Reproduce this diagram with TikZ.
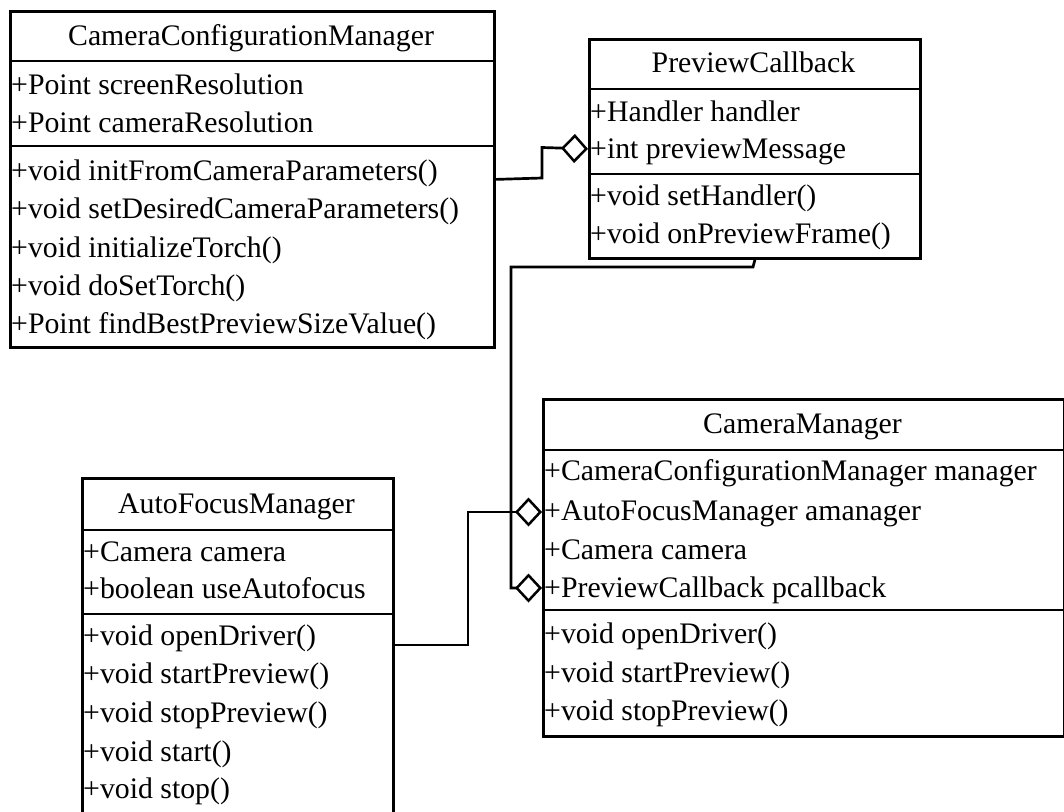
\documentclass[tikz,border=0pt]{standalone}
\usepackage{fontspec}
\setmainfont{Liberation Serif}
\usetikzlibrary{arrows.meta}
\newcommand\umlfont{\fontsize{29.8}{35}\selectfont}
\begin{document}
\begin{tikzpicture}[x=1pt,y=-1pt,
  box/.style={draw, line width=2.8pt, inner sep=0pt, anchor=north west},
  divider/.style={line width=2.8pt},
  row/.style={anchor=base west, inner sep=0pt, font=\umlfont},
  head/.style={anchor=base, inner sep=0pt, font=\umlfont},
  conn/.style={line width=2.7pt, -{Diamond[open,length=27pt,width=29pt,line width=2.5pt]}}
]
\useasboundingbox (0,0) rectangle (1064,811);
\clip (0,0) rectangle (1064,811);
\fill[white] (0,0) rectangle (1064,811);

% CameraConfigurationManager
\node[box, minimum width=484pt, minimum height=336pt] (ccm) at (9,10) {};
\draw[divider] (9,61) -- (493,61);
\draw[divider] (9,146) -- (493,146);
\node[head] (ccmT) at (251,45) {CameraConfigurationManager};
\node[row] (ccm1) at (11,94) {+Point screenResolution};
\node[row] (ccm2) at (11,132) {+Point cameraResolution};
\node[row] (ccm3) at (11,180) {+void initFromCameraParameters()};
\node[row] (ccm4) at (11,218) {+void setDesiredCameraParameters()};
\node[row] (ccm5) at (11,257) {+void initializeTorch()};
\node[row] (ccm6) at (11,295) {+void doSetTorch()};
\node[row] (ccm7) at (11,333) {+Point findBestPreviewSizeValue()};

% PreviewCallback
\node[box, minimum width=331pt, minimum height=219pt] (pc) at (588,38) {};
\draw[divider] (588,89) -- (919,89);
\draw[divider] (588,174) -- (919,174);
\node[head] (pcT) at (753.5,72) {PreviewCallback};
\node[row] (pc1) at (590,121) {+Handler handler};
\node[row] (pc2) at (590,158) {+int previewMessage};
\node[row] (pc3) at (590,205) {+void setHandler()};
\node[row] (pc4) at (590,243) {+void onPreviewFrame()};

% CameraManager
\node[box, minimum width=521pt, minimum height=337pt] (cm) at (542,398) {};
\draw[divider] (542,450) -- (1063,450);
\draw[divider] (542,610) -- (1063,610);
\node[head] (cmT) at (802.5,433) {CameraManager};
\node[row] (cm1) at (544,480) {+CameraConfigurationManager manager};
\node[row] (cm2) at (544,520) {+AutoFocusManager amanager};
\node[row] (cm3) at (544,559) {+Camera camera};
\node[row] (cm4) at (544,597) {+PreviewCallback pcallback};
\node[row] (cm5) at (544,643) {+void openDriver()};
\node[row] (cm6) at (544,682) {+void startPreview()};
\node[row] (cm7) at (544,720) {+void stopPreview()};

% AutoFocusManager
\node[box, minimum width=311pt, minimum height=360pt] (afm) at (81,477) {};
\draw[divider] (81,530) -- (392,530);
\draw[divider] (81,614) -- (392,614);
\node[head] (afmT) at (236.5,513) {AutoFocusManager};
\node[row] (afm1) at (83,561) {+Camera camera};
\node[row] (afm2) at (83,598) {+boolean useAutofocus};
\node[row] (afm3) at (83,645) {+void openDriver()};
\node[row] (afm4) at (83,683) {+void startPreview()};
\node[row] (afm5) at (83,722) {+void stopPreview()};
\node[row] (afm6) at (83,761) {+void start()};
\node[row] (afm7) at (83,798) {+void stop()};

% connector points
\coordinate (cmA) at (542,512);
\coordinate (cmP) at (542,588);
\coordinate (afmO) at (392,645);
\coordinate (b1) at (542,178);
\coordinate (b2) at (542,147.5);
\coordinate (b3) at (753,267);
\coordinate (b4) at (511,267);
\coordinate (b5) at (511,588);
\coordinate (b6) at (468,645);
\coordinate (b7) at (468,512);

\draw[conn] (ccm.east) -- (b1) -- (b2) -- (pc.west);
\draw[conn] (pc.south) -- (b3) -- (b4) -- (b5) -- (cmP);
\draw[conn] (afmO) -- (b6) -- (b7) -- (cmA);
\end{tikzpicture}
\end{document}
